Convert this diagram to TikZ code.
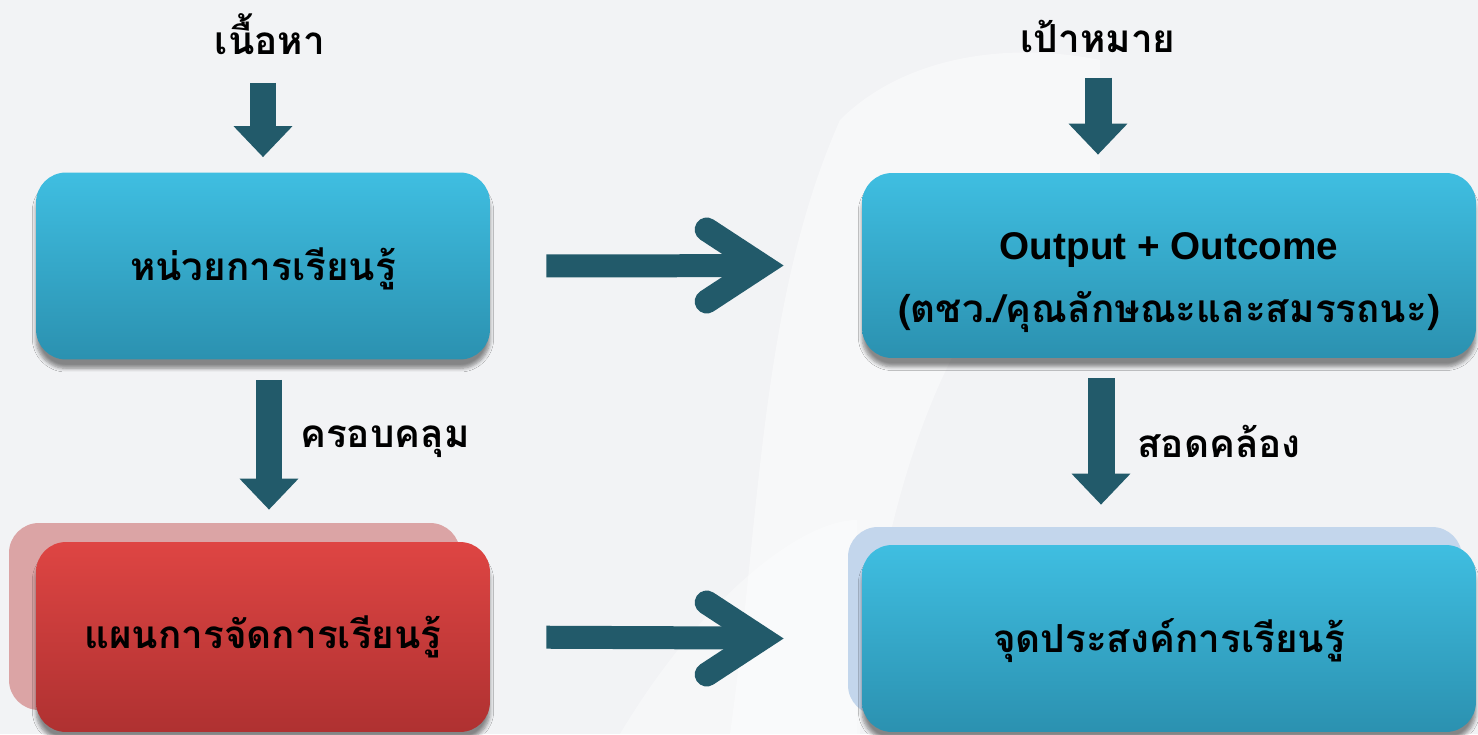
\documentclass[tikz,border=0pt]{standalone}
\usepackage{fontspec}
\setmainfont{Liberation Sans}
\newfontfamily\thai[Script=Thai]{Loma}
\usetikzlibrary{calc,shadows.blur,arrows.meta}
\definecolor{bg}{HTML}{F2F3F5}
\definecolor{arr}{HTML}{225A6A}
\definecolor{btop}{HTML}{3FBEE1}
\definecolor{bbot}{HTML}{2B91B0}
\definecolor{rtop}{HTML}{DE4543}
\definecolor{rbot}{HTML}{AF3131}
\definecolor{pinkshadow}{HTML}{DBA4A5}
\definecolor{blueshadow}{HTML}{C3D6EC}
\begin{document}
\begin{tikzpicture}[x=0.02cm,y=-0.02cm,
  lbl/.style={font=\thai\bfseries\fontsize{22}{26}\selectfont, inner sep=0pt, text=black},
  boxbase/.style={rounded corners=0.6cm, draw=none, align=center, text=black,
    font=\thai\bfseries\fontsize{22}{36}\selectfont,
    blur shadow={shadow xshift=0pt, shadow yshift=-5pt, shadow blur steps=6, shadow opacity=45}},
  bluebox/.style={boxbase, top color=btop, bottom color=bbot},
  redbox/.style={boxbase, top color=rtop, bottom color=rbot},
  downarrow/.style={draw=arr, line width=0.54cm, -{Triangle[width=1.14cm,length=0.62cm]}},
  shaft/.style={draw=arr, line width=0.46cm},
  chevron/.style={draw=arr, line width=0.48cm, line cap=round, line join=miter},
  backcard/.style={rounded corners=0.6cm}
  ]
\fill[bg] (0,0) rectangle (1478,734);
\useasboundingbox (0,0) rectangle (1478,734);
% faint book shape in background
\fill[white, opacity=0.45] (730,734) .. controls (760,520) and (760,300) .. (840,120) .. controls (900,60) and (1000,40) .. (1100,60) -- (1100,200) .. controls (960,260) and (880,480) .. (860,734) -- cycle;
\fill[white, opacity=0.35] (620,734) .. controls (700,600) and (800,520) .. (857,520) -- (857,734) -- cycle;

% back cards
\fill[pinkshadow, backcard] (9,523) rectangle (460,710);
\fill[blueshadow, backcard] (848,527) rectangle (1462,715);

% boxes
\node[bluebox, minimum width=9.08cm, minimum height=3.74cm] (b1) at (263,266) {\rule{0pt}{22pt}หน่วยการเรียนรู้};
\node[bluebox, minimum width=12.28cm, minimum height=3.7cm] (b2) at (1169,265.5) {\rule{0pt}{35pt}{\fontfamily{\rmdefault}\selectfont\bfseries Output + Outcome}\\(ตชว./คุณลักษณะและสมรรถนะ)};
\node[redbox, minimum width=9.08cm, minimum height=3.8cm] (b3) at (263,637) {แผนการจัดการเรียนรู้};
\node[bluebox, minimum width=12.28cm, minimum height=3.74cm] (b4) at (1169,638.5) {\rule{0pt}{22pt}จุดประสงค์การเรียนรู้};

% labels
\node[lbl] (t1) at (270,34) {เนื้อหา};
\node[lbl] (t2) at (1098,36) {เป้าหมาย};
\node[lbl, anchor=west] (c1) at (300,442) {ครอบคลุม};
\node[lbl, anchor=west] (c2) at (1137,441) {สอดคล้อง};

% down arrows
\draw[downarrow, shorten <=0.56cm, shorten >=0.3cm] (b1.north |- t1.south) -- (b1.north);
\draw[downarrow, shorten <=0.5cm, shorten >=0.36cm] (t2.south) -- (t2.south |- b2.north);
\draw[downarrow, shorten <=0.4cm, shorten >=0.64cm] ($(b1.south)+(6,0)$) -- ($(b3.north)+(6,0)$);
\draw[downarrow, shorten <=0.4cm, shorten >=0.8cm] ($(b2.south)+(-68,0)$) -- ($(b4.north)+(-68,0)$);

% right arrows
\draw[shaft, shorten <=1.12cm, shorten >=2cm] (b1.east) -- (b2.west);
\coordinate (h1) at ($(b2.west)+(-100,0)$);
\draw[chevron] ($(h1)+(-55,-36)$) -- (h1) -- ($(h1)+(-55,36)$);
\draw[shaft, shorten <=1.12cm, shorten >=2cm] (b3.east) -- (b4.west);
\coordinate (h2) at ($(b4.west)+(-100,0)$);
\draw[chevron] ($(h2)+(-55,-36)$) -- (h2) -- ($(h2)+(-55,36)$);
\end{tikzpicture}
\end{document}
